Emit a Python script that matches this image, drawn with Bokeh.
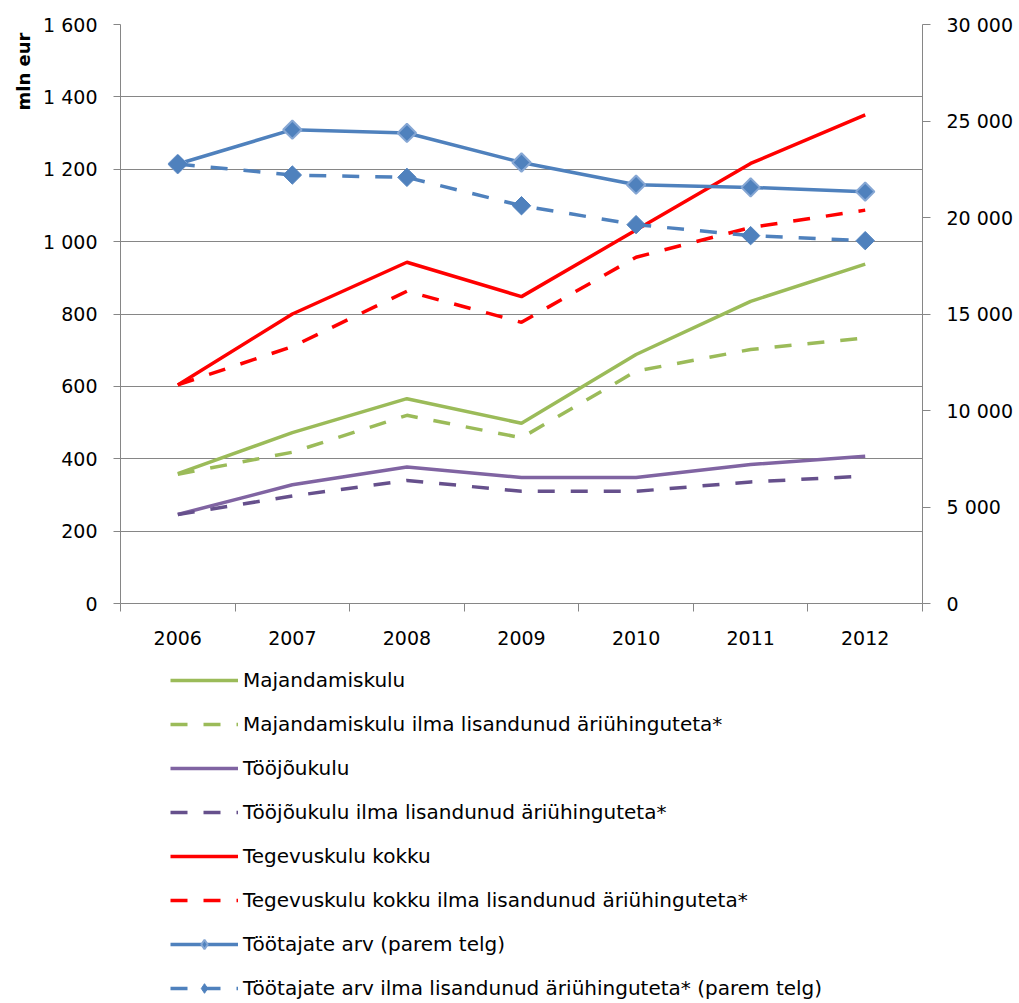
import numpy as np
from bokeh.plotting import figure
from bokeh.layouts import column
from bokeh.models import Range1d, LinearAxis, FixedTicker, Legend, LegendItem, Title
from bokeh.embed import file_html
from bokeh.resources import INLINE

years = ["2006", "2007", "2008", "2009", "2010", "2011", "2012"]
majandamiskulu = [359, 472, 566, 498, 688, 835, 938]
majandamiskulu_ilma = [357, 418, 520, 458, 642, 702, 734]
toojoukulu = [246, 328, 377, 348, 348, 384, 407]
toojoukulu_ilma = [246, 297, 340, 310, 310, 336, 352]
tegevuskulu = [604, 800, 943, 848, 1032, 1216, 1350]
tegevuskulu_ilma = [604, 710, 863, 777, 957, 1039, 1087]
tootajad = [22770, 24550, 24380, 22850, 21700, 21560, 21340]
tootajad_ilma = [22770, 22200, 22080, 20610, 19630, 19060, 18800]

left_ticks = [0, 200, 400, 600, 800, 1000, 1200, 1400, 1600]
left_labels = ["0", "200", "400", "600", "800", "1 000", "1 200", "1 400", "1 600"]
right_ticks = [0, 5000, 10000, 15000, 20000, 25000, 30000]
right_labels = ["0", "5 000", "10 000", "15 000", "20 000", "25 000", "30 000"]

labels = [
    "Majandamiskulu",
    "Majandamiskulu ilma lisandunud äriühinguteta*",
    "Tööjõukulu",
    "Tööjõukulu ilma lisandunud äriühinguteta*",
    "Tegevuskulu kokku",
    "Tegevuskulu kokku ilma lisandunud äriühinguteta*",
    "Töötajate arv (parem telg)",
    "Töötajate arv ilma lisandunud äriühinguteta* (parem telg)",
]

FONT = "DejaVu Sans"
GRAY = "#868686"
GREEN = "#9BBB59"
PURPLE = "#8064A2"
PURPLE_D = "#66508C"
RED = "#FF0000"
BLUE = "#4F81BD"
DASH = "17 16"

xs = [i + 0.5 for i in range(len(years))]

W = 1015
p = figure(width=W, height=647, x_range=Range1d(0, len(years)), y_range=Range1d(0, 1600),
           output_backend="svg", toolbar_location=None,
           min_border_left=120, min_border_right=93, min_border_top=24, min_border_bottom=44)
p.extra_y_ranges = {"right": Range1d(0, 30000)}
p.outline_line_color = None

# x axis
xa = p.xaxis[0]
xa.ticker = FixedTicker(ticks=xs, minor_ticks=list(range(len(years) + 1)))
xa.major_label_overrides = {x: y for x, y in zip(xs, years)}
xa.major_tick_out = 0
xa.major_tick_in = 0
xa.minor_tick_out = 8
xa.minor_tick_in = 0
xa.minor_tick_line_color = GRAY
xa.axis_line_color = GRAY
xa.major_label_standoff = 19
xa.major_label_text_font = FONT
xa.major_label_text_font_size = "19px"
xa.major_label_text_color = "#000000"
p.xgrid.visible = False

# left axis
ya = p.yaxis[0]
ya.ticker = FixedTicker(ticks=left_ticks)
ya.major_label_overrides = {t: l for t, l in zip(left_ticks, left_labels)}
ya.major_tick_out = 7
ya.major_tick_in = 0
ya.minor_tick_line_color = None
ya.axis_line_color = GRAY
ya.major_tick_line_color = GRAY
ya.major_label_standoff = 16
ya.major_label_text_font = FONT
ya.major_label_text_font_size = "19px"
ya.major_label_text_color = "#000000"
p.ygrid.ticker = FixedTicker(ticks=left_ticks)
p.ygrid.grid_line_color = GRAY
p.ygrid.grid_line_width = 1

# right axis
ra = LinearAxis(y_range_name="right", ticker=FixedTicker(ticks=right_ticks))
ra.major_label_overrides = {t: l for t, l in zip(right_ticks, right_labels)}
ra.major_tick_out = 8
ra.major_tick_in = 0
ra.minor_tick_line_color = None
ra.axis_line_color = GRAY
ra.major_tick_line_color = GRAY
ra.major_label_standoff = 16
ra.major_label_text_font = FONT
ra.major_label_text_font_size = "19px"
ra.major_label_text_color = "#000000"
p.add_layout(ra, "right")

# axis title
t = Title(text="mln eur", align="right", offset=8, standoff=13,
          text_font=FONT, text_font_size="18px", text_font_style="bold", text_color="#000000")
p.add_layout(t, "left")


def draw(fig, visible=True, marker="square", angle=np.pi / 4, msize=13):
    r1 = fig.line(xs, majandamiskulu, line_color=GREEN, line_width=3.5, visible=visible)
    r2 = fig.line(xs, majandamiskulu_ilma, line_color=GREEN, line_width=3.5, line_dash=DASH, visible=visible)
    r3 = fig.line(xs, toojoukulu, line_color=PURPLE, line_width=3.5, visible=visible)
    r4 = fig.line(xs, toojoukulu_ilma, line_color=PURPLE_D, line_width=3.5, line_dash=DASH, visible=visible)
    r5 = fig.line(xs, tegevuskulu, line_color=RED, line_width=3.5, visible=visible)
    r6 = fig.line(xs, tegevuskulu_ilma, line_color=RED, line_width=3.5, line_dash=DASH, visible=visible)
    r7 = fig.line(xs, tootajad, line_color=BLUE, line_width=3.5, y_range_name="right", visible=visible)
    r7m = fig.scatter(xs, tootajad, marker=marker, angle=angle, size=msize, fill_color=BLUE,
                      line_color="#86A7D4", line_width=2, y_range_name="right", visible=visible)
    r8 = fig.line(xs, tootajad_ilma, line_color=BLUE, line_width=3.5, line_dash=DASH,
                  y_range_name="right", visible=visible)
    r8m = fig.scatter(xs, tootajad_ilma, marker=marker, angle=angle, size=msize, fill_color=BLUE,
                      line_color=BLUE, line_width=1, y_range_name="right", visible=visible)
    return [[r1], [r2], [r3], [r4], [r5], [r6], [r7, r7m], [r8, r8m]]


draw(p)

# legend figure
p2 = figure(width=W, height=354, x_range=Range1d(0, len(years)), y_range=Range1d(0, 1600),
            output_backend="svg", toolbar_location=None, x_axis_type=None, y_axis_type=None,
            min_border_left=0, min_border_right=0, min_border_top=0, min_border_bottom=0)
p2.extra_y_ranges = {"right": Range1d(0, 30000)}
p2.outline_line_color = None
p2.grid.visible = False
rends = draw(p2, visible=False, marker="diamond", angle=0, msize=15)
items = [LegendItem(label=l, renderers=r) for l, r in zip(labels, rends)]
legend = Legend(items=items, location=(50, 1), orientation="vertical",
                glyph_width=68, glyph_height=24, label_height=24, spacing=20,
                padding=0, margin=0, label_standoff=5,
                label_text_font=FONT, label_text_font_size="20px", label_text_color="#000000",
                border_line_color=None, background_fill_alpha=0, inactive_fill_alpha=0)
p2.add_layout(legend)

layout = column(p, p2, spacing=0)
open("out.html", "w").write(file_html(layout, INLINE))
